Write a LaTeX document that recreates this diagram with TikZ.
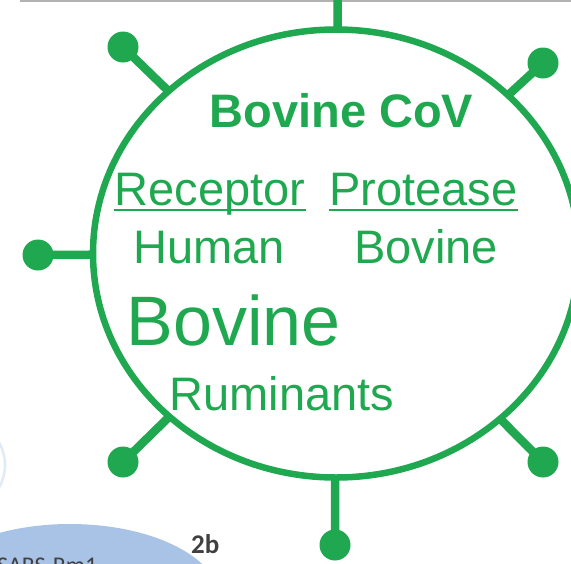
\documentclass[tikz,border=0pt]{standalone}
\usepackage{fontspec}
\setmainfont{Liberation Sans}
\newfontfamily\panelfont{Carlito}
\usetikzlibrary{shapes.geometric}
\definecolor{covgreen}{HTML}{1FA84F}
\definecolor{panelblue}{HTML}{A9C3E7}

\begin{document}
\begin{tikzpicture}[x=1pt, y=-1pt,
  virus/.style={ellipse, draw=covgreen, line width=6.5pt,
                minimum width=486pt, minimum height=448pt, inner sep=0pt},
  knob/.style={circle, fill=covgreen, minimum size=31pt, inner sep=0pt},
  spike/.style={covgreen, line width=8.5pt, shorten >=-4pt},
  lbl/.style={text=covgreen, anchor=base, inner sep=0pt, font=\fontsize{47}{50}\selectfont},
  ttl/.style={lbl, font=\bfseries\fontsize{47}{50}\selectfont},
  big/.style={lbl, font=\fontsize{70}{72}\selectfont},
  uline/.style={covgreen, line width=2.5pt},
  tag/.style={text=black!75, anchor=base west, inner sep=0pt}]
  \useasboundingbox (0,0) rectangle (571,563);
  \clip (0,0) rectangle (571,563);
  % neighbouring panels, cut by the frame
  \draw[black!30, line width=2pt] (20,1) -- (571,1);
  \fill[panelblue] (70,600) ellipse [x radius=150, y radius=76];
  \draw[panelblue!35, line width=2.5pt] (-40,465) circle [radius=45];
  \node[tag, font=\panelfont\fontsize{24}{24}\selectfont] (rm) at (-3,573) {SARS-Rm1};
  \node[tag, font=\panelfont\bfseries\fontsize{27}{27}\selectfont] (panel) at (191,553) {2b};
  % the virion
  \node[virus] (cell) at (336,253.5) {};
  \node[knob] (kT) at (338,-40) {};
  \node[knob] (kTL) at (123,47) {};
  \node[knob] (kTR) at (543,63) {};
  \node[knob] (kL) at (38,255) {};
  \node[knob] (kBL) at (123,462) {};
  \node[knob] (kB) at (335,545) {};
  \node[knob] (kBR) at (543,462) {};
  \foreach \k in {kT,kTL,kTR,kL,kBL,kB,kBR}
    \draw[spike] (\k.center) -- (cell);
  % labels
  \node[ttl] (title) at (341.5,127) {Bovine CoV};
  \node[lbl] (rec) at (210,205) {Receptor};
  \node[lbl] (pro) at (423.5,205) {Protease};
  \draw[uline] ([yshift=-5pt]rec.base west) -- ([yshift=-5pt]rec.base east);
  \draw[uline] ([yshift=-5pt]pro.base west) -- ([yshift=-5pt]pro.base east);
  \node[lbl] (rechost) at (209,263) {Human};
  \node[lbl] (prohost) at (426,263) {Bovine};
  \node[big] (host) at (233.5,345) {Bovine};
  \node[lbl] (rum) at (282,410) {Ruminants};
\end{tikzpicture}
\end{document}
